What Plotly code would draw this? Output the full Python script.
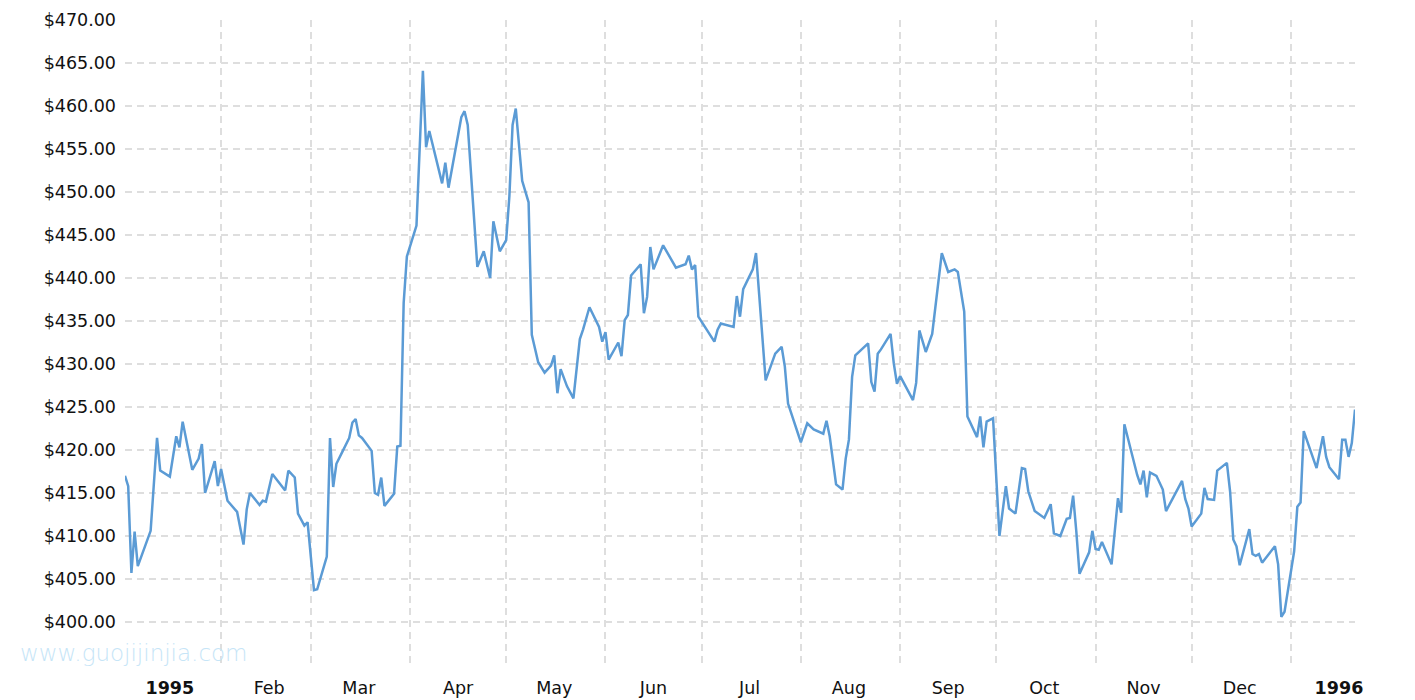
"""Gold price, London fix, through 1995 (daily, USD per ounce)."""

import pandas as pd
import plotly.graph_objects as go

# trading day, counted in days since 1995-01-01
trading_day = [
    1, 2, 3, 4, 5, 9, 11, 12, 15, 17, 18, 19, 22, 24, 25, 26, 29, 30, 31, 33,
    36, 38, 39, 40, 43, 44, 45, 47, 51, 52, 54, 55, 57, 58, 60, 61, 64, 65,
    66, 67, 69, 71, 72, 73, 74, 75, 78, 79, 80, 81, 82, 85, 86, 87, 88, 89,
    92, 94, 95, 96, 100, 101, 102, 103, 106, 107, 108, 111, 113, 115, 116,
    118, 120, 121, 122, 123, 125, 127,
    128, 129, 130, 132, 134, 135, 136, 137, 139, 141, 142, 143, 144, 146,
    149, 150, 151, 152, 155, 156, 157, 158, 159, 162, 163, 164, 165, 166,
    169, 171, 173, 176, 177, 178, 179, 180, 185, 186, 187, 191, 192, 193, 194,
    197, 198, 199, 201, 204, 206, 207, 208, 212, 214, 216, 219, 220, 221,
    223, 225, 226, 227, 228, 229, 233, 234, 235, 236, 237, 240, 241, 242,
    243, 247, 248, 249, 251, 253, 256, 258,
    260, 261, 263, 264, 267, 268, 269, 270, 272, 274, 276, 277, 279, 281,
    282, 283, 285, 288, 290, 291, 293, 295, 296, 297, 298, 299, 302, 303,
    304, 305, 306, 309, 311, 312, 313, 317, 318, 319, 320, 321,
    323, 325, 326, 331, 332, 333, 334, 337, 338, 339, 341, 342, 345, 346,
    347, 348, 349, 352, 353, 354, 355, 356, 360, 361, 362, 363, 366, 367,
    368, 369, 373, 375, 376, 377, 380, 381, 382, 383, 384, 385,
]

price = [
    417.0, 415.8, 405.7, 410.5, 406.5, 410.6, 421.4, 417.6, 416.9, 421.6,
    420.3, 423.3, 417.7, 419.0, 420.7, 415.0, 418.7, 415.8, 417.8, 414.1,
    412.8, 409.0, 413.1, 415.0, 413.6, 414.1, 414.0, 417.2, 415.3, 417.6,
    416.8, 412.6, 411.2, 411.6, 403.7, 403.8, 407.6, 421.4,
    415.7, 418.4, 419.9, 421.4, 423.2, 423.6, 421.7, 421.4, 419.9, 415.0,
    414.8, 416.8, 413.5, 414.9, 420.4, 420.5, 437.1, 442.5, 446.1, 464.1,
    455.2, 457.1, 451.0, 453.4, 450.5, 452.6, 458.7, 459.4, 457.8, 441.3,
    443.1, 440.0, 446.6, 443.1, 444.4, 449.5, 457.8, 459.7, 451.3, 448.8,
    433.4, 431.8, 430.2, 429.0, 429.8, 431.0, 426.6, 429.4, 427.4, 426.0,
    429.5, 432.9, 434.0, 436.6, 434.3, 432.6, 433.7, 430.5, 432.5, 430.9,
    435.1, 435.7, 440.3, 441.6, 435.9, 437.8, 443.6, 441.0, 443.8, 442.5,
    441.2, 441.6, 442.6, 441.0, 441.5, 435.5, 432.6, 434.0, 434.7, 434.3,
    437.9, 435.5, 438.7,
    441.0, 442.9, 438.0, 428.1, 431.2, 432.0, 429.7, 425.4, 420.9, 423.1,
    422.4, 421.9, 423.4, 421.6, 416.0, 415.4, 419.0, 421.2, 428.5, 431.0,
    432.4, 427.9, 426.8, 431.2, 431.7, 433.5, 430.1, 427.7, 428.6, 425.8,
    427.8, 433.9, 431.4, 433.5, 442.9, 440.7,
    441.0, 440.7, 436.1, 423.9, 421.5, 423.9, 420.3, 423.3, 423.7, 410.0,
    415.8, 413.2, 412.6, 417.9, 417.8, 415.2, 412.9, 412.1, 413.7, 410.3,
    410.0, 412.0, 412.1, 414.7, 410.5, 405.6, 408.1, 410.6, 408.5, 408.4,
    409.3, 406.7, 414.4, 412.7, 423.0, 417.1, 416.0, 417.6, 414.5, 417.4,
    417.0, 415.4, 412.9, 416.4, 414.3, 413.2, 411.1, 412.6, 415.6, 414.3,
    414.2, 417.6, 418.5, 415.2, 409.6, 408.8, 406.6, 410.8, 407.9, 407.7,
    407.9, 406.9, 408.8, 406.7, 400.6, 401.2, 408.2, 413.4, 413.9, 422.2,
    417.9, 421.6, 419.2, 418.0, 416.6, 421.2, 421.2, 419.2, 420.8, 424.7,
]

month_labels = ["<b>1995</b>", "Feb", "Mar", "Apr", "May", "Jun", "Jul",
                "Aug", "Sep", "Oct", "Nov", "Dec", "<b>1996</b>"]
price_ticks = list(range(395, 471, 5))

dates = pd.Timestamp("1995-01-01") + pd.to_timedelta(trading_day, unit="D")
# month names sit mid-month, grid lines fall on the 1st
label_dates = pd.date_range("1995-01-01", periods=len(month_labels), freq="MS") + pd.Timedelta(days=15)

GRID = dict(gridcolor="#dedede", gridwidth=1.5, griddash="7px,5px")
FONT = dict(family="DejaVu Sans, Verdana, sans-serif", size=17.5, color="#111111")

fig = go.Figure(
    go.Scatter(
        x=dates, y=price, mode="lines",
        line=dict(color="#5b9bd5", width=2.5),
        hovertemplate="%{x|%b %d, %Y}<br>$%{y:.2f}<extra></extra>",
    )
)

fig.update_xaxes(
    range=[dates[0], dates[-1]],
    tickmode="array", tickvals=label_dates, ticktext=month_labels,
    showgrid=False, zeroline=False, showline=False, automargin=False,
    ticks="", ticklabelstandoff=10, tickfont=FONT,
    minor=dict(tick0="1995-01-01", dtick="M1", showgrid=True, ticks="", **GRID),
)
fig.update_yaxes(
    range=[395, 470],
    tickmode="array", tickvals=price_ticks,
    ticktext=["" if v == 395 else f"${v:.2f}" for v in price_ticks],
    showgrid=True, zeroline=False, showline=False, automargin=False,
    ticks="", ticklabelstandoff=8, tickfont=FONT,
    **GRID,
)

fig.add_annotation(
    text="www.guojijinjia.com",
    xref="paper", yref="paper", x=-0.087, y=0.018,
    xanchor="left", yanchor="middle", showarrow=False,
    font=dict(family="DejaVu Sans, sans-serif", size=23, color="#c6e5f7", weight=200),
)

# the page body adds an 8px offset, so margins are trimmed on top/left
fig.update_layout(
    width=1415, height=700,
    margin=dict(l=117, r=68, t=12, b=43),
    paper_bgcolor="white", plot_bgcolor="white",
    showlegend=False,
)

fig.write_html("out.html")
